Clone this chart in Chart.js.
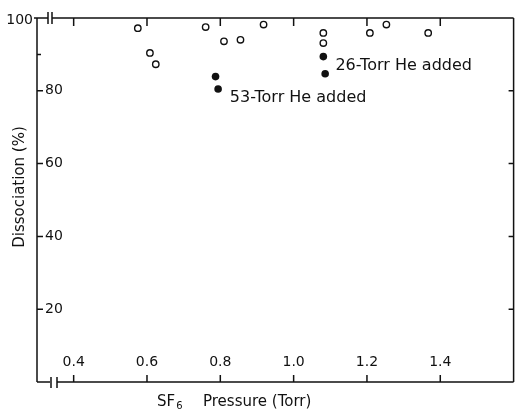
<!DOCTYPE html>
<html>
<head>
<meta charset="utf-8">
<title>SF6 dissociation</title>
<script src="https://cdn.jsdelivr.net/npm/chart.js@4.4.0/dist/chart.umd.min.js"></script>
<style>
  html, body { margin: 0; padding: 0; background: #fff; }
  #wrap { width: 519px; height: 420px; }
</style>
</head>
<body>
<div id="wrap"><canvas id="dissChart" width="519" height="420"></canvas></div>
<script>
// dissociation (%) against SF6 pressure (Torr)
const pureX = [0.575, 0.608, 0.624, 0.760, 0.810, 0.855, 0.918, 1.081, 1.081, 1.208, 1.253, 1.367];
const pureY = [97.2, 90.4, 87.3, 97.5, 93.6, 94.0, 98.2, 95.9, 93.1, 95.9, 98.2, 95.9];

// runs with helium added
const heliumX = [0.787, 0.794, 1.081, 1.086];
const heliumY = [83.9, 80.5, 89.4, 84.7];

const xTicks = [0.4, 0.6, 0.8, 1.0, 1.2, 1.4];
const xTickLabels = ['0.4', '0.6', '0.8', '1.0', '1.2', '1.4'];
const yTicks = [20, 40, 60, 80, 100];
const yTickLabels = ['20', '40', '60', '80', '100'];
const yMinorTicks = [90];

const noteText = ['53-Torr He added', '26-Torr He added'];
const noteX = [0.826, 1.114];
const noteY = [78.2, 86.9];

const ink = '#111';
const font = '"DejaVu Sans", sans-serif';

// frame, inward ticks, labels and titles, all placed from the scales
const axesFrame = {
    id: 'axesFrame',
    afterDraw(chart) {
        const { ctx, chartArea: a, scales: { x, y } } = chart;
        ctx.save();
        ctx.strokeStyle = ink;
        ctx.fillStyle = ink;
        ctx.lineWidth = 1.5;

        ctx.beginPath();
        ctx.moveTo(a.left, a.top);
        ctx.lineTo(a.left, a.bottom);
        ctx.moveTo(a.right, a.top);
        ctx.lineTo(a.right, a.bottom);
        // top and bottom lines are broken just right of the corner
        ctx.moveTo(a.left, a.top);
        ctx.lineTo(a.left + 11, a.top);
        ctx.moveTo(a.left + 15, a.top);
        ctx.lineTo(a.right, a.top);
        ctx.moveTo(a.left, a.bottom);
        ctx.lineTo(a.left + 13, a.bottom);
        ctx.moveTo(a.left + 20, a.bottom);
        ctx.lineTo(a.right, a.bottom);
        // break marks
        ctx.moveTo(a.left + 11, a.top - 6);
        ctx.lineTo(a.left + 11, a.top + 6);
        ctx.moveTo(a.left + 15, a.top - 6);
        ctx.lineTo(a.left + 15, a.top + 6);
        ctx.moveTo(a.left + 14, a.bottom - 5);
        ctx.lineTo(a.left + 14, a.bottom + 6);
        ctx.moveTo(a.left + 20, a.bottom - 5);
        ctx.lineTo(a.left + 20, a.bottom + 6);

        xTicks.forEach(v => {
            const px = x.getPixelForValue(v);
            ctx.moveTo(px, a.bottom);
            ctx.lineTo(px, a.bottom - 7);
            ctx.moveTo(px, a.top);
            ctx.lineTo(px, a.top + 8);
        });
        yTicks.forEach(v => {
            const py = y.getPixelForValue(v);
            if (v === 100) {
                ctx.moveTo(a.left, py);
                ctx.lineTo(a.left - 3, py);
                return;
            }
            ctx.moveTo(a.left, py);
            ctx.lineTo(a.left + 6, py);
            ctx.moveTo(a.right, py);
            ctx.lineTo(a.right - 5, py);
        });
        yMinorTicks.forEach(v => {
            const py = y.getPixelForValue(v);
            ctx.moveTo(a.left, py);
            ctx.lineTo(a.left + 4, py);
        });
        ctx.stroke();

        ctx.font = '14px ' + font;
        ctx.textBaseline = 'middle';
        ctx.textAlign = 'center';
        xTicks.forEach((v, i) => {
            ctx.fillText(xTickLabels[i], x.getPixelForValue(v), a.bottom - 20);
        });
        yTicks.forEach((v, i) => {
            const py = y.getPixelForValue(v);
            if (v === 100) {
                ctx.textAlign = 'right';
                ctx.fillText(yTickLabels[i], a.left - 4, py + 2);
            } else {
                ctx.textAlign = 'left';
                ctx.fillText(yTickLabels[i], a.left + 8, py);
            }
        });

        ctx.font = '16px ' + font;
        ctx.textAlign = 'left';
        noteText.forEach((t, i) => {
            ctx.fillText(t, x.getPixelForValue(noteX[i]), y.getPixelForValue(noteY[i]));
        });

        // axis titles
        ctx.font = '15px ' + font;
        ctx.save();
        ctx.translate(20, 187);
        ctx.rotate(-Math.PI / 2);
        ctx.textAlign = 'center';
        ctx.fillText('Dissociation (%)', 0, 0);
        ctx.restore();

        let tx = 157;
        const ty = 402;
        ctx.fillText('SF', tx, ty);
        tx += ctx.measureText('SF').width;
        ctx.font = '10px ' + font;
        ctx.fillText('6', tx + 1, ty + 4);
        ctx.font = '15px ' + font;
        ctx.fillText('Pressure (Torr)', 203, ty);
        ctx.restore();
    }
};

new Chart(document.getElementById('dissChart'), {
    type: 'scatter',
    data: {
        datasets: [
            {
                label: 'SF6',
                data: pureX.map((v, i) => ({ x: v, y: pureY[i] })),
                pointRadius: 3.2,
                pointBorderWidth: 1.4,
                pointBorderColor: ink,
                pointBackgroundColor: '#fff'
            },
            {
                label: 'SF6 + He',
                data: heliumX.map((v, i) => ({ x: v, y: heliumY[i] })),
                pointRadius: 3.8,
                pointBorderWidth: 0,
                pointBackgroundColor: ink
            }
        ]
    },
    options: {
        responsive: false,
        animation: false,
        layout: {
            padding: { left: 37, right: 3, top: 18, bottom: 38 }
        },
        plugins: {
            legend: { display: false },
            tooltip: { enabled: false }
        },
        scales: {
            x: { type: 'linear', min: 0.3, max: 1.6, display: false },
            y: { type: 'linear', min: 0, max: 100, display: false }
        }
    },
    plugins: [axesFrame]
});
</script>
</body>
</html>
